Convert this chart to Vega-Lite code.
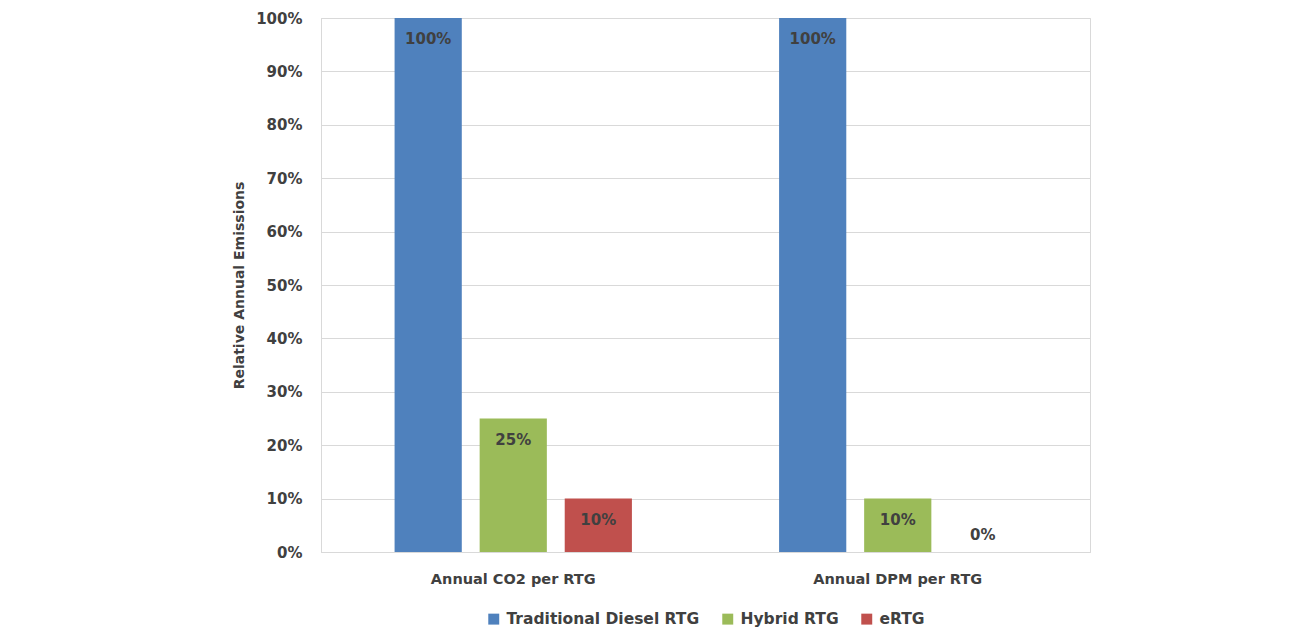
{
  "$schema": "https://vega.github.io/schema/vega-lite/v6.json",
  "width": 769,
  "height": 534,
  "autosize": {"type": "none"},
  "padding": {"left": 321, "top": 18, "right": 211, "bottom": 76},
  "background": "white",
  "config": {
    "font": "DejaVu Sans",
    "view": {"stroke": "#d9d9d9", "strokeWidth": 1},
    "axis": {"labelFont": "DejaVu Sans", "titleFont": "DejaVu Sans", "labelColor": "#404040", "titleColor": "#404040", "labelFontWeight": "bold", "titleFontWeight": "bold"},
    "legend": {"layout": {"bottom": {"anchor": "middle"}}}
  },
  "data": {
    "values": [
      {"category": "Annual CO2 per RTG", "series": "Traditional Diesel RTG", "value": 1.0},
      {"category": "Annual CO2 per RTG", "series": "Hybrid RTG", "value": 0.25},
      {"category": "Annual CO2 per RTG", "series": "eRTG", "value": 0.10},
      {"category": "Annual DPM per RTG", "series": "Traditional Diesel RTG", "value": 1.0},
      {"category": "Annual DPM per RTG", "series": "Hybrid RTG", "value": 0.10},
      {"category": "Annual DPM per RTG", "series": "eRTG", "value": 0.0}
    ]
  },
  "encoding": {
    "x": {
      "field": "category", "type": "nominal", "sort": null,
      "scale": {"paddingInner": 0, "paddingOuter": 0},
      "axis": {"title": null, "labelAngle": 0, "labelFontSize": 14.5, "labelPadding": 20, "ticks": false, "domainColor": "#d9d9d9", "grid": false}
    },
    "xOffset": {
      "field": "series", "type": "nominal",
      "sort": ["Traditional Diesel RTG", "Hybrid RTG", "eRTG"],
      "scale": {"paddingInner": 0.21, "paddingOuter": 0.865}
    },
    "y": {
      "field": "value", "type": "quantitative",
      "scale": {"domain": [0, 1], "nice": false},
      "axis": {
        "title": "Relative Annual Emissions", "titleFontSize": 14, "titlePadding": 9,
        "format": ".0%", "values": [0, 0.1, 0.2, 0.3, 0.4, 0.5, 0.6, 0.7, 0.8, 0.9, 1.0],
        "labelFontSize": 15, "labelPadding": 19, "ticks": false, "domainColor": "#d9d9d9",
        "gridColor": "#d9d9d9", "gridWidth": 1
      }
    }
  },
  "layer": [
    {
      "mark": {"type": "bar"},
      "encoding": {
        "color": {
          "field": "series", "type": "nominal",
          "sort": ["Traditional Diesel RTG", "Hybrid RTG", "eRTG"],
          "scale": {"domain": ["Traditional Diesel RTG", "Hybrid RTG", "eRTG"], "range": ["#4f81bd", "#9bbb59", "#c0504d"]},
          "legend": {
            "title": null, "orient": "bottom", "direction": "horizontal",
            "symbolType": "square", "symbolSize": 120, "symbolStrokeWidth": 0,
            "labelFont": "DejaVu Sans", "labelFontSize": 15.5, "labelFontWeight": "bold", "labelColor": "#404040",
            "labelLimit": 0, "columnPadding": 20, "labelOffset": 5, "offset": 25
          }
        }
      }
    },
    {
      "transform": [{"filter": "datum.value > 0"}],
      "mark": {"type": "text", "baseline": "middle", "dy": 21, "fontSize": 15, "fontWeight": "bold", "color": "#404040", "font": "DejaVu Sans"},
      "encoding": {"text": {"field": "value", "type": "quantitative", "format": ".0%"}}
    },
    {
      "transform": [{"filter": "datum.value == 0"}],
      "mark": {"type": "text", "baseline": "middle", "dy": -17, "fontSize": 15, "fontWeight": "bold", "color": "#404040", "font": "DejaVu Sans"},
      "encoding": {"text": {"field": "value", "type": "quantitative", "format": ".0%"}}
    }
  ]
}
